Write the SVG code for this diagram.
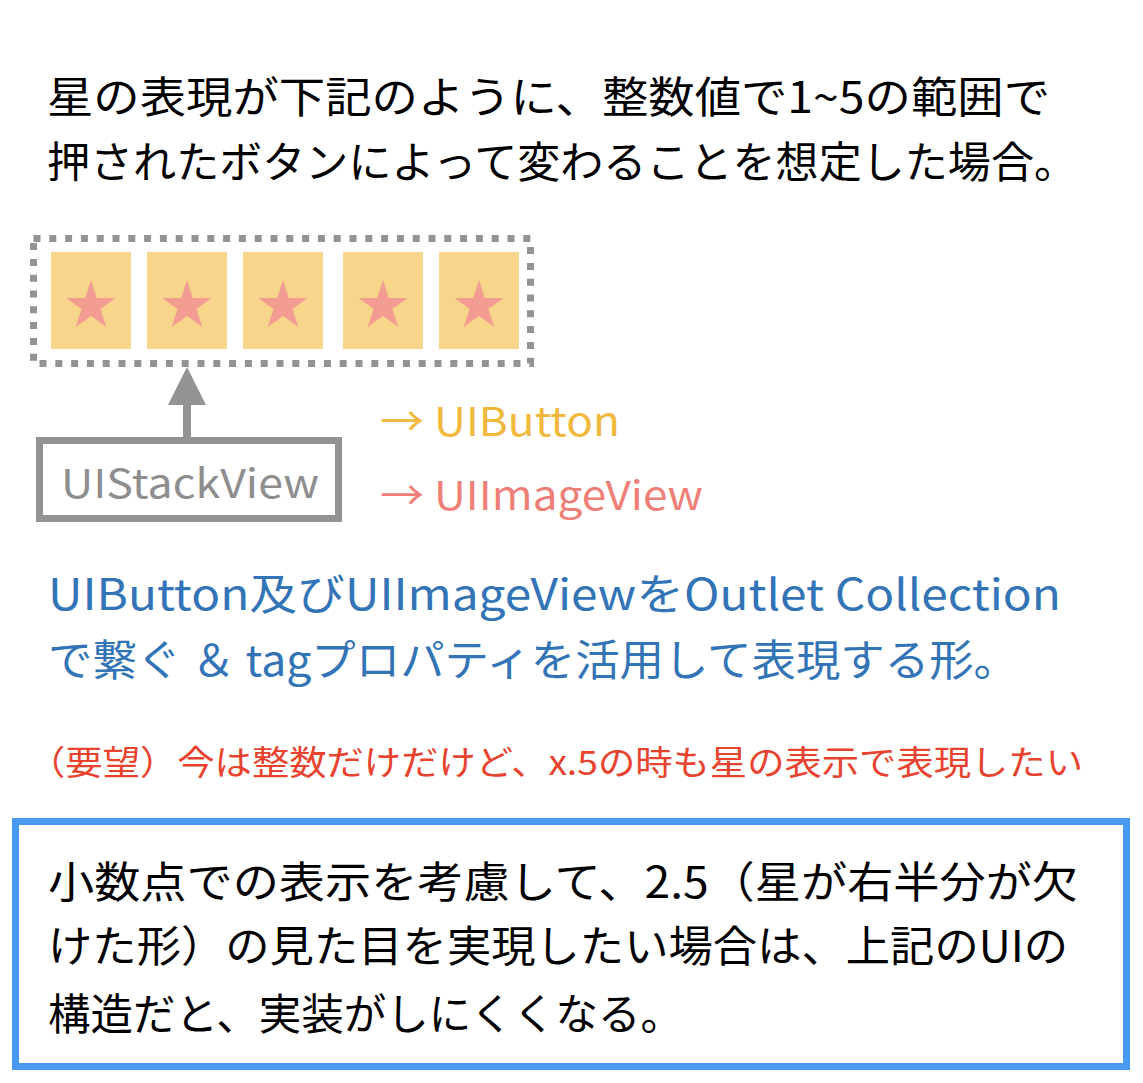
<svg xmlns="http://www.w3.org/2000/svg" width="1143" height="1083" viewBox="0 0 1143 1083">
<style>
text{font-family:"Noto Sans CJK JP","Noto Sans",sans-serif}
.t{font-size:43px;fill:#000}
.b{font-size:43px;fill:#3274b6}
.r{font-size:34px;fill:#e8432e}
.cell{fill:#f7d68b}
.star{fill:#f29c92}
</style>
<defs>
<polygon id="star" points="0,-26 5.85,-8.05 24.75,-8.05 9.45,3.05 15.3,21 0,9.95 -15.3,21 -9.45,3.05 -24.75,-8.05 -5.85,-8.05"/>
</defs>
<rect width="1143" height="1083" fill="#fff"/>
<g id="title">
<text class="t" x="47" y="113" textLength="1003" lengthAdjust="spacingAndGlyphs">星の表現が下記のように、整数値で1~5の範囲で</text>
<text class="t" x="47" y="178" textLength="1030" lengthAdjust="spacingAndGlyphs">押されたボタンによって変わることを想定した場合。</text>
</g>
<g id="stackview-frame">
<rect x="33.5" y="238.5" width="497" height="125" fill="none" stroke="#939393" stroke-width="7" stroke-dasharray="7 8.8"/>
</g>
<g id="button1"><rect class="cell" x="51" y="252" width="80" height="97"/><use href="#star" class="star" x="91" y="306"/></g>
<g id="button2"><rect class="cell" x="147" y="252" width="80" height="97"/><use href="#star" class="star" x="187" y="306"/></g>
<g id="button3"><rect class="cell" x="243" y="252" width="80" height="97"/><use href="#star" class="star" x="283" y="306"/></g>
<g id="button4"><rect class="cell" x="343" y="252" width="80" height="97"/><use href="#star" class="star" x="383" y="306"/></g>
<g id="button5"><rect class="cell" x="439" y="252" width="80" height="97"/><use href="#star" class="star" x="479" y="306"/></g>
<g id="connectors">
<line x1="187" y1="437" x2="187" y2="402" stroke="#939393" stroke-width="8"/>
<polygon points="187,367 206,405 168,405" fill="#939393"/>
</g>
<g id="uistackview">
<rect x="39.5" y="440.5" width="299" height="78" fill="#fff" stroke="#939393" stroke-width="7"/>
<text x="190" y="498" font-size="40" fill="#8e8e8e" text-anchor="middle" textLength="258" lengthAdjust="spacingAndGlyphs">UIStackView</text>
</g>
<g id="legend">
<text x="380" y="436" font-size="40" fill="#f0b83c" textLength="240" lengthAdjust="spacingAndGlyphs">→ UIButton</text>
<text x="380" y="510" font-size="40" fill="#ee7f78" textLength="323" lengthAdjust="spacingAndGlyphs">→ UIImageView</text>
</g>
<g id="description">
<text class="b" x="48" y="610" textLength="1013" lengthAdjust="spacingAndGlyphs">UIButton及びUIImageViewをOutlet Collection</text>
<text class="b" x="48" y="676" textLength="970" lengthAdjust="spacingAndGlyphs">で繋ぐ ＆ tagプロパティを活用して表現する形。</text>
</g>
<g id="request">
<text class="r" x="28" y="775" textLength="1055" lengthAdjust="spacingAndGlyphs">（要望）今は整数だけだけど、x.5の時も星の表示で表現したい</text>
</g>
<g id="note">
<rect x="15.5" y="821.5" width="1111" height="245" fill="#fff" stroke="#4799f1" stroke-width="7"/>
<text class="t" x="48" y="898" textLength="1030" lengthAdjust="spacingAndGlyphs">小数点での表示を考慮して、2.5（星が右半分が欠</text>
<text class="t" x="48" y="962" textLength="1020" lengthAdjust="spacingAndGlyphs">けた形）の見た目を実現したい場合は、上記のUIの</text>
<text class="t" x="48" y="1030" textLength="635" lengthAdjust="spacingAndGlyphs">構造だと、実装がしにくくなる。</text>
</g>
</svg>
